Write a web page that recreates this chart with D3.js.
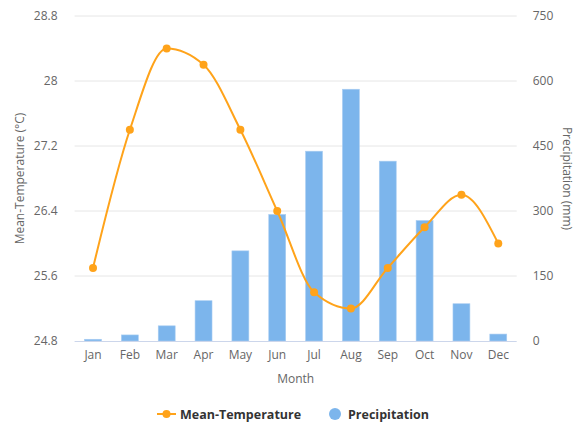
<!DOCTYPE html>
<html><head><meta charset="utf-8">
<script src="https://cdn.jsdelivr.net/npm/d3@7"></script>
<style>
body{margin:0;background:#fff;}
text{font-family:"Open Sans",sans-serif;}
</style></head>
<body><svg id="c" width="582" height="425"></svg>
<script>
const months = ["Jan","Feb","Mar","Apr","May","Jun","Jul","Aug","Sep","Oct","Nov","Dec"];
const temperature = [25.7,27.4,28.4,28.2,27.4,26.4,25.4,25.2,25.7,26.2,26.6,26.0];
const precipitation = [4,14,35,93,208,292,438,581,415,278,86,16];
const tempTicks = [24.8,25.6,26.4,27.2,28,28.8];
const precTicks = [0,150,300,450,600,750];

const svg = d3.select("#c");
const L = 74.6, R = 516.7, T = 16, B = 341;
const x = d3.scaleBand().domain(months).range([L,R]).paddingInner(0.54).paddingOuter(0.27);
const yT = d3.scaleLinear().domain([24.8,28.8]).range([B,T]);
const yP = d3.scaleLinear().domain([0,750]).range([B,T]);

// grid
svg.append("g").selectAll("line").data(tempTicks.slice(1)).join("line")
  .attr("x1",L).attr("x2",R).attr("y1",d=>yT(d)).attr("y2",d=>yT(d))
  .attr("stroke","#e6e6e6").attr("stroke-width",1);

// bars
svg.append("g").selectAll("rect").data(precipitation).join("rect")
  .attr("x",(d,i)=>x(months[i])).attr("width",x.bandwidth())
  .attr("y",d=>yP(d)).attr("height",d=>B-yP(d))
  .attr("fill","#7cb5ec").attr("stroke","#a9cdf2").attr("stroke-width",0.6);

// baseline
svg.append("line").attr("x1",L).attr("x2",R).attr("y1",B+0.5).attr("y2",B+0.5)
  .attr("stroke","#ccd6eb").attr("stroke-width",1);

// left axis
const axL = svg.append("g").attr("transform",`translate(${L-17},0)`)
  .call(d3.axisLeft(yT).tickValues(tempTicks).tickSize(0).tickPadding(0).tickFormat(d=>d3.format("")(d)));
axL.select(".domain").remove();
axL.selectAll("text").attr("fill","#666").style("font-size","12px");

// right axis
const axR = svg.append("g").attr("transform",`translate(${R+16},0)`)
  .call(d3.axisRight(yP).tickValues(precTicks).tickSize(0).tickPadding(0));
axR.select(".domain").remove();
axR.selectAll("text").attr("fill","#666").style("font-size","12px");

// x axis
const axX = svg.append("g").attr("transform",`translate(0,${B})`)
  .call(d3.axisBottom(x).tickSize(0).tickPadding(9));
axX.select(".domain").remove();
axX.selectAll("text").attr("fill","#666").style("font-size","12px");

// axis titles
svg.append("text").attr("transform",`translate(24,${(T+B)/2}) rotate(-90)`)
  .attr("text-anchor","middle").attr("fill","#666").style("font-size","12px").text("Mean-Temperature (°C)");
svg.append("text").attr("transform",`translate(563,${(T+B)/2}) rotate(90)`)
  .attr("text-anchor","middle").attr("fill","#666").style("font-size","12px").text("Precipitation (mm)");
svg.append("text").attr("x",(L+R)/2).attr("y",383)
  .attr("text-anchor","middle").attr("fill","#666").style("font-size","12px").text("Month");

// line
const orange = "#ffa31a";
const line = d3.line().x((d,i)=>x(months[i])+x.bandwidth()/2).y(d=>yT(d)).curve(d3.curveMonotoneX);
svg.append("path").datum(temperature).attr("d",line).attr("fill","none")
  .attr("stroke",orange).attr("stroke-width",2);
svg.append("g").selectAll("circle").data(temperature).join("circle")
  .attr("cx",(d,i)=>x(months[i])+x.bandwidth()/2).attr("cy",d=>yT(d)).attr("r",4).attr("fill",orange);

// legend
const lg = svg.append("g");
lg.append("line").attr("x1",157).attr("x2",176).attr("y1",414).attr("y2",414).attr("stroke",orange).attr("stroke-width",2);
lg.append("circle").attr("cx",166.5).attr("cy",414).attr("r",4).attr("fill",orange);
lg.append("text").attr("x",180).attr("y",418.5).attr("fill","#333").style("font-size","12.5px").style("font-weight","bold").text("Mean-Temperature");
lg.append("circle").attr("cx",335).attr("cy",414).attr("r",6).attr("fill","#7cb5ec");
lg.append("text").attr("x",348).attr("y",418.5).attr("fill","#333").style("font-size","12.5px").style("font-weight","bold").text("Precipitation");
</script></body></html>
